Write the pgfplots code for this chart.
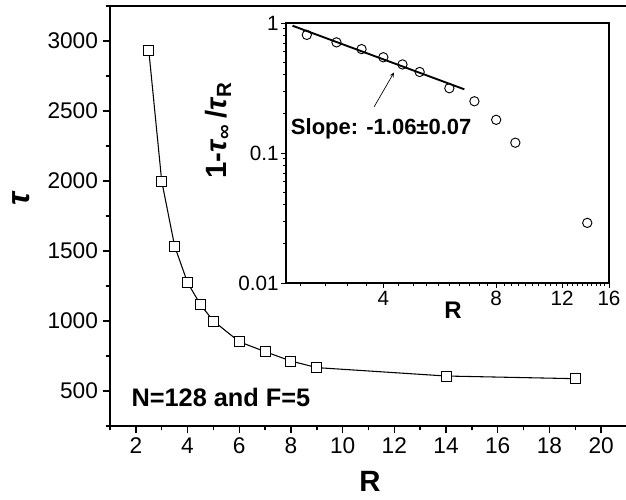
\documentclass[border=0pt]{standalone}
\usepackage{fontspec}
\setmainfont{Liberation Sans}
\usepackage{pgfplots}
\pgfplotsset{compat=1.18}

\pgfplotstableread{
R tau
2.5 2934
3 2000
3.5 1535
4 1274
4.5 1117
5 1000
6 852
7 781
8 714
9 667
14 607
19 588
}\maindata

\pgfplotstableread{
R val
2.5 0.81
3 0.71
3.5 0.63
4 0.545
4.5 0.48
5 0.42
6 0.315
7 0.25
8 0.18
9 0.12
14 0.029
}\insetdata

\begin{document}
\begin{tikzpicture}
\useasboundingbox (-82.5pt,-55.5pt) rectangle (387pt,319.5pt);
\begin{axis}[
  at={(0pt,0pt)}, anchor=south west,
  scale only axis, width=387.75pt, height=315pt,
  xmin=1, xmax=21, ymin=250, ymax=3250,
  xtick={2,4,...,20}, minor xtick={1,3,...,21},
  ytick={500,1000,...,3000}, minor ytick={250,750,...,3250},
  tick align=outside, tick pos=left,
  major tick length=5.5pt, minor tick length=3.3pt,
  axis line style={line width=1.1pt},
  every tick/.style={line width=1.1pt, black},
  /pgf/number format/assume math mode=true,
  /pgf/number format/1000 sep={},
  ticklabel style={font=\fontsize{17}{17}\selectfont},
  xlabel={\textbf{R}},
  xlabel style={font=\fontsize{22}{22}\selectfont, at={(axis description cs:0.503,-0.133)}, anchor=center},
  ylabel={\textbf{\textit{τ}}},
  ylabel style={font=\fontsize{24}{24}\selectfont, at={(axis description cs:-0.172,0.543)}, anchor=center},
  clip=false,
]
\addplot[black, line width=0.8pt, mark=square*, mark size=3.75pt,
  mark options={fill=white, draw=black, line width=0.7pt, solid}] table[x=R, y=tau] {\maindata};
\draw[line width=1.1pt] (rel axis cs:0,1) -- (rel axis cs:1,1);
\node[anchor=west, font=\fontsize{19}{19}\selectfont\bfseries] at (axis cs:1.65,453) {N=128 and F=5};
\end{axis}

\begin{axis}[
  at={(132pt,107.25pt)}, anchor=south west,
  scale only axis, width=242.25pt, height=195pt,
  xmode=log, ymode=log,
  xmin=2.2, xmax=16, ymin=0.01, ymax=1,
  xtick={4,8,12,16}, xticklabels={4,8,12,16},
  minor xtick={2.4,2.8,...,15.7},
  ytick={0.01,0.1,1}, yticklabels={0.01,0.1,1},
  tick align=outside, tick pos=left,
  major tick length=3.5pt, minor tick length=2pt,
  axis line style={line width=0.8pt},
  every tick/.style={line width=0.7pt, black},
  axis background/.style={fill=white},
  ticklabel style={font=\fontsize{15.5}{15.5}\selectfont},
  xticklabel style={yshift=1pt},
  yticklabel style={xshift=1.5pt},
  xlabel={\textbf{R}},
  xlabel style={font=\fontsize{18}{18}\selectfont, at={(axis description cs:0.517,-0.104)}, anchor=center},
  ylabel={\textbf{1-\textit{τ}\textsubscript{∞}\,/\textit{τ}\textsubscript{R}}},
  ylabel style={font=\fontsize{22}{22}\selectfont, at={(axis description cs:-0.21,0.588)}, anchor=center},
]
\addplot[only marks, mark=o, mark size=3.5pt, mark options={line width=0.7pt, black}] table[x=R, y=val] {\insetdata};
\addplot[black, line width=1.4pt] coordinates {(2.29,0.953) (6.58,0.309)};
\draw[-stealth, line width=0.5pt] (rel axis cs:0.273,0.678) -- (rel axis cs:0.334,0.809);
\node[anchor=west, inner sep=0pt, font=\fontsize{16.5}{16.5}\selectfont\bfseries] at (rel axis cs:0.0146,0.593) {Slope: -1.06±0.07};
\end{axis}
\end{tikzpicture}
\end{document}
